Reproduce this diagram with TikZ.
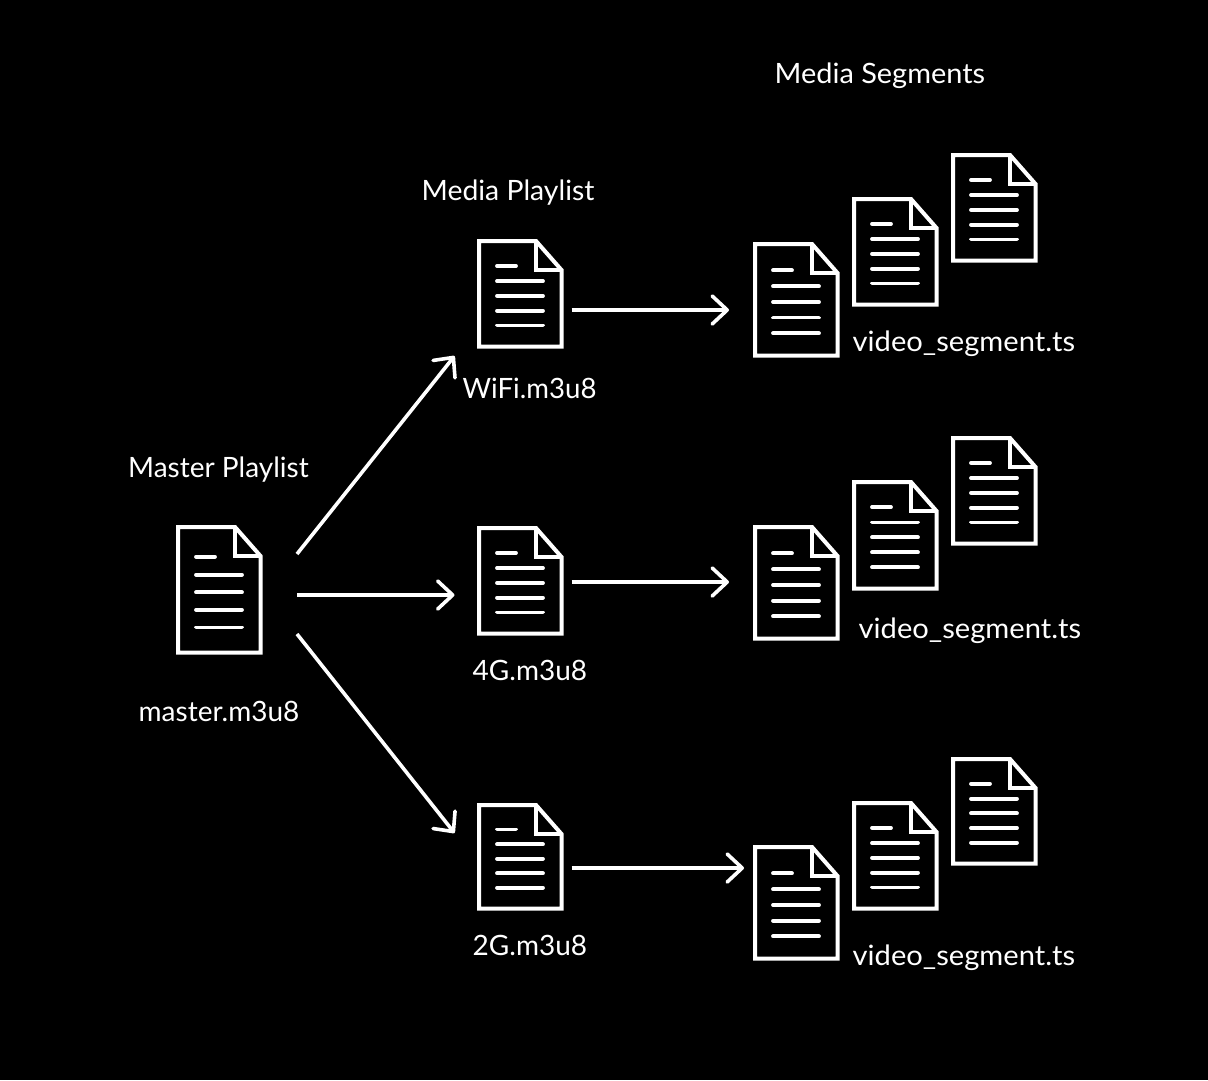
\documentclass[tikz,border=0pt]{standalone}
\usepackage{fontspec}
\usepackage{graphicx}
\setmainfont{Lato}
\usetikzlibrary{arrows.meta}
\definecolor{ink}{HTML}{FFFFFF}
\tikzset{
  x=1pt,y=-1pt,
  docline/.style={draw=ink,line width=4pt,line join=miter},
  docrule/.style={draw=ink,line width=3.8pt,line cap=round},
  conn/.style={draw=ink,line width=3.6pt,-{Straight Barb[length=15pt,width=28pt,line width=3.6pt,round]}},
  lab/.style={text=ink,anchor=base west,inner sep=0pt,font=\fontsize{28}{32}\selectfont}
}
% name, left, top, right, bottom (centre lines of the outline)
\newcommand{\docicon}[5]{%
  \pgfmathsetmacro{\hh}{#5-#3}%
  \coordinate (#1-a) at (#2,#3);
  \draw[docline] (#2,#3) -- (#2+57,#3) -- (#4,#3+29) -- (#4,#5) -- (#2,#5) -- cycle;
  \draw[docline] (#2+57,#3) -- (#2+57,#3+29) -- (#4,#3+29);
  \draw[docrule] (#2+18,#3+.236*\hh) -- (#2+37,#3+.236*\hh);
  \foreach \f in {.38,.52,.66,.8}{
    \draw[docrule] (#2+18,#3+\f*\hh) -- (#2+64,#3+\f*\hh);
  }
}
\begin{document}
\begin{tikzpicture}
\useasboundingbox (0,0) rectangle (1208,1080);
\fill[black] (0,0) rectangle (1208,1080);

\docicon{master}{178}{527}{260.5}{652.5}
\docicon{wifi}{479}{241}{561.5}{346.5}
\docicon{fourg}{479}{528}{561.5}{633.5}
\docicon{twog}{479}{805}{561.5}{908.5}

\docicon{sa1}{755}{244}{837.5}{355.5}
\docicon{sa2}{854}{199}{936.5}{304.5}
\docicon{sa3}{953}{155}{1035.5}{260.5}
\docicon{sb1}{755}{527}{837.5}{638.5}
\docicon{sb2}{854}{482}{936.5}{588.5}
\docicon{sb3}{953}{438}{1035.5}{543.5}
\docicon{sc1}{755}{847}{837.5}{958.5}
\docicon{sc2}{854}{803}{936.5}{908.5}
\docicon{sc3}{953}{759}{1035.5}{863.5}

\node[lab] (tsegments) at (774.5,83) {\scalebox{1.033}[1]{Media Segments}};
\node[lab] (tmedia) at (421.5,200) {\scalebox{1.012}[1]{Media Playlist}};
\node[lab] (tmaster) at (128,477) {Master Playlist};
\node[lab] (fmaster) at (138.5,721) {master.m3u8};
\node[lab] (fwifi) at (462.5,398) {\scalebox{.986}[1]{WiFi.m3u8}};
\node[lab] (ffourg) at (472.5,680) {4G.m3u8};
\node[lab] (ftwog) at (472.5,955) {2G.m3u8};
\node[lab] (fsa) at (852.5,351) {\scalebox{1.04}[1]{video\_segment.ts}};
\node[lab] (fsb) at (858.5,638) {\scalebox{1.04}[1]{video\_segment.ts}};
\node[lab] (fsc) at (852.5,965) {\scalebox{1.04}[1]{video\_segment.ts}};

\coordinate (m1) at (297,554);
\coordinate (m2) at (297,595);
\coordinate (m3) at (297,634);
\coordinate (w) at (454.5,356);
\coordinate (g4) at (454.5,595);
\coordinate (g2) at (454.5,833);
\coordinate (wo) at (571.5,310);
\coordinate (wi) at (729,310);
\coordinate (fo) at (571.5,582);
\coordinate (fi) at (729,582);
\coordinate (so) at (571.5,868);
\coordinate (si) at (744,868);
\draw[conn] (m1) -- (w);
\draw[conn] (m2) -- (g4);
\draw[conn] (m3) -- (g2);
\draw[conn] (wo) -- (wi);
\draw[conn] (fo) -- (fi);
\draw[conn] (so) -- (si);
\end{tikzpicture}
\end{document}
